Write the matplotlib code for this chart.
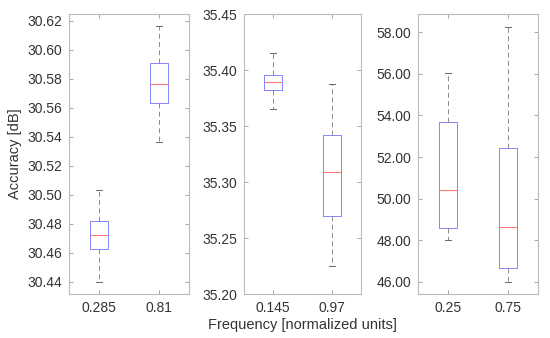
import matplotlib.pyplot as plt
import matplotlib.ticker as mticker
import numpy as np

plt.rcParams['font.family'] = ['Liberation Sans', 'DejaVu Sans']

# Box statistics: whisker low, Q1, median, Q3, whisker high
freq_labels = [['0.285', '0.81'], ['0.145', '0.97'], ['0.25', '0.75']]

whislo = [[30.440, 30.536], [35.365, 35.225], [48.01, 46.00]]
q1 = [[30.4626, 30.563], [35.3824, 35.2696], [48.58, 46.64]]
med = [[30.472, 30.5766], [35.3893, 35.3087], [50.41, 48.64]]
q3 = [[30.4819, 30.5908], [35.3955, 35.342], [53.68, 52.42]]
whishi = [[30.5032, 30.616], [35.4149, 35.3875], [56.03, 58.27]]

ylims = [(30.4315, 30.6246), (35.20, 35.45), (45.41, 58.88)]
yticks = [np.arange(30.44, 30.621, 0.02), np.arange(35.20, 35.451, 0.05), np.arange(46, 58.1, 2)]

fig = plt.figure(figsize=(5.5, 3.38), dpi=100)
lefts = [69, 244, 418]
widths = [120, 117, 120]

for i in range(3):
    ax = fig.add_axes([lefts[i] / 550, 1 - 294 / 338, widths[i] / 550, 280 / 338])
    stats = []
    for j in range(2):
        stats.append(dict(whislo=whislo[i][j], q1=q1[i][j], med=med[i][j],
                          q3=q3[i][j], whishi=whishi[i][j], fliers=[]))
    ax.bxp(stats, positions=[1, 2], widths=0.3, capwidths=0.1, showfliers=False,
           boxprops=dict(color='#8585ff', linewidth=0.7),
           medianprops=dict(color='#ff7777', linewidth=0.8),
           whiskerprops=dict(color='#8a8a8a', linewidth=0.7, linestyle=(0, (5, 3.5))),
           capprops=dict(color='#666666', linewidth=0.7))
    ax.set_xlim(0.5, 2.5)
    ax.set_ylim(*ylims[i])
    ax.set_yticks(yticks[i])
    ax.yaxis.set_major_formatter(mticker.FormatStrFormatter('%.2f'))
    ax.set_xticks([1, 2])
    ax.set_xticklabels(freq_labels[i])
    ax.tick_params(direction='in', top=True, right=True, length=3, width=0.6,
                   color='#999999', labelsize=10, labelcolor='#333333', pad=5)
    for s in ax.spines.values():
        s.set_color('#bbbbbb')
        s.set_linewidth(0.8)
    if i == 0:
        ax.set_ylabel('Accuracy [dB]', fontsize=10.5, color='#333333', labelpad=4)
    if i == 1:
        ax.set_xlabel('Frequency [normalized units]', fontsize=10.5, color='#333333', labelpad=2)

fig.savefig('out.png', dpi=100)
